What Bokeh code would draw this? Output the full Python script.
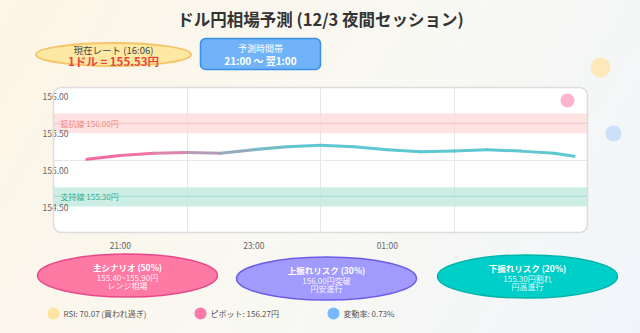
from bokeh.plotting import figure
from bokeh.models import Range1d, FixedTicker, Span, NumeralTickFormatter, Quad
from bokeh.core.properties import value
from bokeh.embed import file_html
from bokeh.resources import INLINE

# ---------------- data ----------------
title_text = "ドル円相場予測 (12/3 夜間セッション)"
rate_caption = "現在レート (16:06)"
rate_text = "1ドル = 155.53円"
window_caption = "予測時間帯"
window_text = "21:00 〜 翌1:00"

# hours after midnight of 12/3 (24 = 00:00 next day)
hours = [20.5, 21.0, 21.5, 22.0, 22.5, 23.0, 23.5, 24.0, 24.5, 25.0, 25.5, 26.0, 26.5, 27.0, 27.5, 27.8]
rates = [155.15, 155.20, 155.23, 155.24, 155.23, 155.28, 155.32, 155.34, 155.32, 155.28, 155.25, 155.26, 155.28, 155.26, 155.23, 155.19]

x_tick_hours = [21, 23, 25]
x_tick_labels = ["21:00", "23:00", "01:00"]
y_ticks = [154.5, 155.0, 155.5, 156.0]

resistance_label = "抵抗線 156.00円"
resistance_band = [155.50, 155.77]
resistance_level = 155.635
support_label = "支持線 155.30円"
support_band = [154.51, 154.77]
support_level = 154.65

scenario_names = ["主シナリオ (50%)", "上振れリスク (30%)", "下振れリスク (20%)"]
scenario_ranges = ["155.40~155.90円", "156.00円突破", "155.30円割れ"]
scenario_notes = ["レンジ相場", "円安進行", "円高進行"]

stat_labels = ["RSI: 70.07 (買われ過ぎ)", "ピボット: 156.27円", "変動率: 0.73%"]

# ---------------- layout / style ----------------
FONT_NAME = "Noto Sans CJK JP"
FONT = value(FONT_NAME)
W, H = 640, 333
FL, FR, FT, FB = 53, 587, 87, 232
HAS_RADIUS = "border_radius" in Quad.properties()

p = figure(width=W, height=H, output_backend="svg", toolbar_location=None,
           x_range=Range1d(20, 28), y_range=Range1d(154.16, 156.12),
           min_border_left=FL, min_border_right=W - FR,
           min_border_top=FT, min_border_bottom=H - FB)
p.background_fill_color = "#f8f7f2"
p.border_fill_color = None
p.styles = {"background": "linear-gradient(120deg, #fdf5e6 0%, #f8f8f3 55%, #f1f5fa 100%)"}
p.outline_line_color = None

p.extra_x_ranges = {"px": Range1d(FL, FR)}
p.extra_y_ranges = {"py": Range1d(FB, FT)}

# white rounded chart card
card_kw = dict(left=[FL], right=[FR], top=[FT], bottom=[FB], fill_color="white",
               line_color=None, x_range_name="px", y_range_name="py")
if HAS_RADIUS:
    card_kw["border_radius"] = 8
card = p.quad(**card_kw)
card.level = "image"

# axes
p.xaxis.ticker = FixedTicker(ticks=x_tick_hours)
p.xaxis.major_label_overrides = {h: l for h, l in zip(x_tick_hours, x_tick_labels)}
p.xaxis.axis_line_color = None
p.xaxis.major_tick_line_color = None
p.xaxis.minor_tick_line_color = None
p.xaxis.major_tick_in = 0
p.xaxis.major_tick_out = 0
p.xaxis.major_label_standoff = 6
p.xaxis.major_label_text_font_size = "8.5px"
p.xaxis.major_label_text_color = "#666666"
p.xaxis.major_label_text_font = FONT_NAME

p.yaxis.ticker = FixedTicker(ticks=y_ticks)
p.yaxis.formatter = NumeralTickFormatter(format="0.00")
p.yaxis.axis_line_color = None
p.yaxis.major_tick_line_color = None
p.yaxis.minor_tick_line_color = None
p.yaxis.major_tick_in = 0
p.yaxis.major_tick_out = 0
p.yaxis.major_label_standoff = -15
p.yaxis.major_label_text_font_size = "8.5px"
p.yaxis.major_label_text_color = "#666666"
p.yaxis.major_label_text_font = FONT_NAME

p.xgrid.ticker = FixedTicker(ticks=[22, 24, 26])
p.xgrid.grid_line_color = "#e6e6e6"
p.ygrid.ticker = FixedTicker(ticks=[155.14])
p.ygrid.grid_line_color = "#e6e6e6"

# support / resistance bands
p.quad(left=20, right=28, bottom=resistance_band[0], top=resistance_band[1],
       fill_color="#ffd9d9", fill_alpha=0.75, line_color=None)
p.quad(left=20, right=28, bottom=support_band[0], top=support_band[1],
       fill_color="#bfeadf", fill_alpha=0.8, line_color=None)
p.add_layout(Span(location=resistance_level, dimension="width", line_color="#f3c2c2", line_width=1))
p.add_layout(Span(location=support_level, dimension="width", line_color="#9ed6c8", line_width=1))
p.text(x=[60], y=[resistance_level], text=[resistance_label], text_font=FONT, text_font_size="8px",
       text_color="#ee7f6f", text_baseline="middle", text_align="left", x_range_name="px")
p.text(x=[60], y=[support_level], text=[support_label], text_font=FONT, text_font_size="8px",
       text_color="#1faa8a", text_baseline="middle", text_align="left", x_range_name="px")

# forecast line with pink -> teal gradient
seg_colors = ["#f26aa0", "#ef74a6", "#dc84ae", "#b89ab6", "#94abbe", "#74bcc6"] + ["#5ec7cf"] * (len(hours) - 7)
p.segment(x0=hours[:-1], y0=rates[:-1], x1=hours[1:], y1=rates[1:],
          line_color=seg_colors, line_width=3, line_cap="round")

# ---------------- decorations (pixel coordinates) ----------------
def deco_ellipse(x, y, w, h, fill, line=None, lw=1.5, alpha=1.0):
    r = p.ellipse(x=[x], y=[y], width=w, height=h, fill_color=fill, fill_alpha=alpha,
                  line_color=line, line_width=lw, x_range_name="px", y_range_name="py")
    r.level = "overlay"

def deco_dot(x, y, rad, fill, alpha=1.0):
    deco_ellipse(x, y, 2 * rad, 2 * rad, fill, None, 0, alpha)

def deco_text(x, y, txt, size, color, bold=False, align="center", alpha=1.0):
    r = p.text(x=[x], y=[y], text=[txt], text_font=FONT, text_font_size=size, text_color=color,
               text_alpha=alpha, text_font_style="bold" if bold else "normal",
               text_align=align, text_baseline="middle", x_range_name="px", y_range_name="py")
    r.level = "overlay"

def deco_box(l, r, t, b, fill, line, lw, radius):
    kw = dict(left=[l], right=[r], top=[t], bottom=[b], fill_color=fill, line_color=line,
              line_width=lw, x_range_name="px", y_range_name="py")
    if HAS_RADIUS:
        kw["border_radius"] = radius
    g = p.quad(**kw)
    g.level = "overlay"

# card border on top
deco_box(FL, FR, FT, FB, None, "#dcdcdc", 1.5, 8)

deco_dot(600, 67, 10, "#fde7b3", 0.9)
deco_dot(613, 133, 8, "#c7ddf8", 0.9)
deco_dot(567, 100, 7, "#ffb3cc", 1.0)

deco_box(200, 320, 38, 69, "#70b3f8", "#3b8fe6", 1.5, 5)

deco_ellipse(113, 54, 155, 23, "#fde9a3", "#f5c466", 2)
deco_text(113, 49, rate_caption, "9.5px", "#444444")
deco_text(113, 60, rate_text, "11.5px", "#e8473f", bold=True)
deco_text(260, 48, window_caption, "9px", "#ffffff")
deco_text(260, 60, window_text, "10px", "#ffffff", bold=True)

deco_text(320, 18, title_text, "16.5px", "#333333", bold=True)

scen_x = [127, 326, 527]
scen_y = [275, 278, 276]
scen_fill = ["#ff79a5", "#a29bfe", "#00cec9"]
scen_line = ["#e8488a", "#6c5ce7", "#00b5aa"]
for i in range(3):
    deco_ellipse(scen_x[i], scen_y[i], 180, 43, scen_fill[i], scen_line[i], 1.5)
    deco_text(scen_x[i], scen_y[i] - 9, scenario_names[i], "8.5px", "#ffffff", bold=True)
    deco_text(scen_x[i], scen_y[i] + 2, scenario_ranges[i], "8px", "#ffffff", alpha=0.92)
    deco_text(scen_x[i], scen_y[i] + 10, scenario_notes[i], "8px", "#ffffff", alpha=0.92)

stat_x = [53, 200, 333]
stat_col = ["#fde5a0", "#fd79a8", "#74b9ff"]
for i in range(3):
    deco_dot(stat_x[i], 313, 6, stat_col[i])
    deco_text(stat_x[i] + 10, 313, stat_labels[i], "8px", "#555555", align="left")

open("out.html", "w").write(file_html(p, INLINE))
